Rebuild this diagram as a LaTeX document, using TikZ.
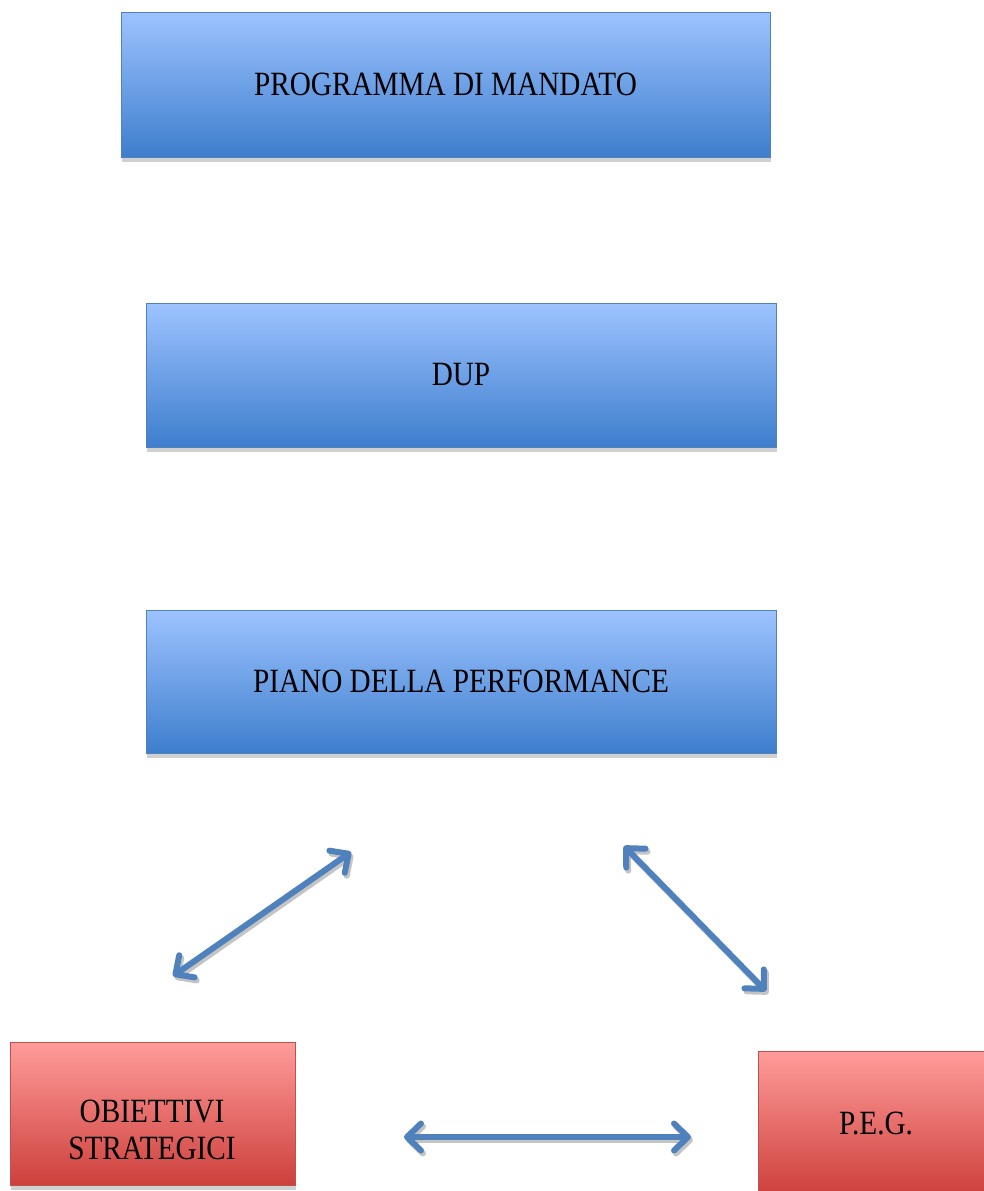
\documentclass[tikz,border=0pt]{standalone}
\usepackage{fontspec}
\setmainfont{Liberation Serif}[FakeStretch=0.86]
\usepackage{tikz}
\usetikzlibrary{positioning}
\usetikzlibrary{arrows.meta}

\definecolor{edgeblue}{RGB}{79,129,189}
\definecolor{topblue}{RGB}{157,195,255}
\definecolor{botblue}{RGB}{62,126,205}
\definecolor{edgered}{RGB}{192,80,77}
\definecolor{topred}{RGB}{255,156,154}
\definecolor{botred}{RGB}{205,64,60}
\definecolor{boxshadow}{RGB}{208,208,208}
\definecolor{arrowshadow}{RGB}{196,196,196}

\tikzset{
  bluebox/.style={draw=edgeblue, line width=1pt, top color=topblue, bottom color=botblue,
    minimum width=630pt, minimum height=144pt,
    preaction={fill=boxshadow, transform canvas={shift={(1pt,-5pt)}}}},
  redbox/.style={draw=edgered, line width=1pt, top color=topred, bottom color=botred,
    minimum height=144pt,
    preaction={fill=boxshadow, transform canvas={shift={(1pt,-5pt)}}}},
  both/.style={line width=6pt, draw=edgeblue, line cap=round,
    {Straight Barb[length=14pt,width=27pt,round]}-{Straight Barb[length=14pt,width=27pt,round]},
    preaction={draw=arrowshadow, line width=6pt,
      {Straight Barb[length=14pt,width=27pt,round]}-{Straight Barb[length=14pt,width=27pt,round]},
      transform canvas={shift={(2pt,-3pt)}}}}
}

\begin{document}
\begin{tikzpicture}[x=1pt, y=-1pt, font=\fontsize{34}{37}\selectfont]
    \useasboundingbox (0,0) rectangle (984,1191);

    \node(prog) [bluebox, minimum width=649pt, minimum height=145pt] at (445.5,84.5) {PROGRAMMA DI MANDATO};
    \node(dup) [bluebox] at (461,375) {DUP};
    \node(piano) [bluebox, minimum height=143pt] at (461,681.5) {PIANO DELLA PERFORMANCE};

    \node(obj) [redbox, minimum width=285pt, minimum height=143pt] at (152.5,1113.5) {};
    \node(objt) [align=center] at (152,1130) {OBIETTIVI\\STRATEGICI};
    \node(peg) [redbox, minimum width=236pt] at (876,1123) {P.E.G.};

    \coordinate(a1) at (173,976);
    \coordinate(a2) at (351,852);
    \coordinate(b1) at (624,846);
    \coordinate(b2) at (766,991);
    \coordinate(c1) at (404,1137);
    \coordinate(c2) at (691,1137);

    \draw[both](a1) -- (a2);
    \draw[both](b1) -- (b2);
    \draw[both](c1) -- (c2);
\end{tikzpicture}
\end{document}
